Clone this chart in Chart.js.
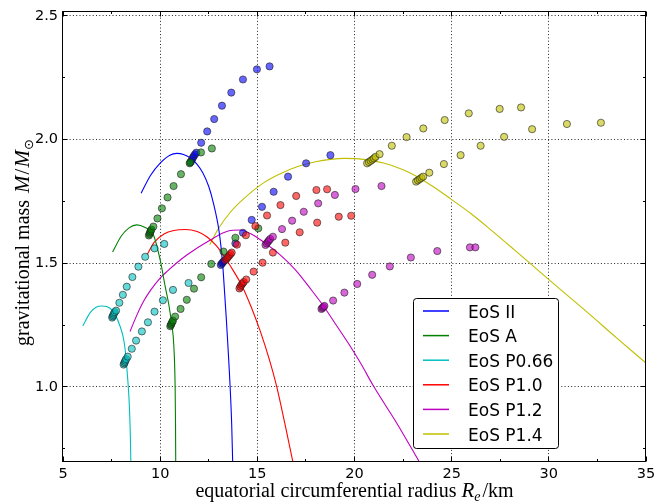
<!DOCTYPE html>
<html><head><meta charset="utf-8">
<script src="https://cdn.jsdelivr.net/npm/chart.js@4/dist/chart.umd.min.js"></script>
<style>html,body{margin:0;padding:0;background:#fff;}#wrap{width:656px;height:502px;}</style>
</head><body><div id="wrap"><canvas id="c" width="656" height="502"></canvas></div>
<script>
// ---------- tick values ----------
const xTicks = [5, 10, 15, 20, 25, 30, 35];
const xMinor = [7.5, 12.5, 17.5, 22.5, 27.5, 32.5];
const yTicks = [1.0, 1.5, 2.0, 2.5];
const yMinor = [0.75, 1.25, 1.75, 2.25];

const eosLabels = ['EoS II', 'EoS A', 'EoS P0.66', 'EoS P1.0', 'EoS P1.2', 'EoS P1.4'];

// ---------- non-rotating sequences (curves): radius R_e [km], mass M/Msun ----------
const curveII_R = [9.02, 9.5, 10.0, 10.5, 10.86, 11.2, 11.55, 11.9, 12.2, 12.5, 12.75, 13.0, 13.14, 13.25, 13.4, 13.6, 13.68, 13.73];
const curveII_M = [1.783, 1.855, 1.905, 1.937, 1.944, 1.94, 1.926, 1.9, 1.865, 1.81, 1.74, 1.645, 1.56, 1.46, 1.28, 1.0, 0.85, 0.7];

const curveA_R = [7.55, 8.0, 8.4, 8.8, 9.2, 9.65, 10.0, 10.26, 10.45, 10.6, 10.7, 10.77, 10.79, 10.8];
const curveA_M = [1.545, 1.61, 1.643, 1.655, 1.645, 1.615, 1.513, 1.405, 1.33, 1.25, 1.17, 1.0, 0.85, 0.7];

const curveP066_R = [6.02, 6.4, 6.7, 7.0, 7.42, 7.7, 7.94, 8.1, 8.2, 8.32, 8.4, 8.46, 8.49];
const curveP066_M = [1.246, 1.3, 1.322, 1.327, 1.318, 1.29, 1.244, 1.2, 1.15, 1.042, 0.947, 0.82, 0.7];

const curveP10_R = [9.33, 9.7, 10.2, 10.7, 11.3, 11.9, 12.4, 12.9, 13.4, 13.8, 14.2, 14.7, 15.15, 15.6, 16.0, 16.42, 16.82];
const curveP10_M = [1.535, 1.585, 1.618, 1.632, 1.636, 1.628, 1.607, 1.57, 1.515, 1.465, 1.41, 1.32, 1.225, 1.115, 1.0, 0.85, 0.7];

const curveP12_R = [8.45, 8.8, 9.14, 9.5, 10.0, 10.34, 11.37, 12.58, 13.5, 14.1, 14.64, 15.33, 16.19, 16.96, 17.7, 18.42, 19.1, 19.79, 20.31, 21.0, 22.2, 23.31];
const curveP12_M = [1.224, 1.29, 1.345, 1.39, 1.44, 1.466, 1.533, 1.594, 1.63, 1.634, 1.62, 1.585, 1.533, 1.473, 1.4, 1.325, 1.245, 1.163, 1.096, 1.0, 0.85, 0.7];

const curveP14_R = [12.55, 13.0, 13.6, 14.29, 15.32, 16.19, 17.04, 18.0, 18.76, 19.5, 20.22, 21.5, 22.5, 23.23, 24.0, 24.95, 26.0, 27.0, 28.2, 29.07, 30.5, 32.0, 33.5, 35.0];
const curveP14_M = [1.575, 1.64, 1.705, 1.76, 1.825, 1.862, 1.89, 1.91, 1.92, 1.924, 1.922, 1.905, 1.878, 1.85, 1.812, 1.76, 1.7, 1.636, 1.556, 1.497, 1.4, 1.3, 1.197, 1.096];

// ---------- rotating models (scatter points) ----------
const ptsII_R = [11.58, 11.63, 11.68, 11.73, 11.79, 11.86, 12.11, 12.42, 12.78, 13.18, 13.66, 14.26, 14.98, 15.63,
                 13.12, 13.17, 13.22, 13.27, 13.87, 14.26, 14.71, 15.24, 15.84, 16.58, 17.51, 18.76];
const ptsII_M = [1.91, 1.918, 1.926, 1.933, 1.94, 1.947, 1.987, 2.033, 2.083, 2.137, 2.19, 2.243, 2.284, 2.296,
                 1.493, 1.498, 1.503, 1.508, 1.58, 1.623, 1.675, 1.728, 1.789, 1.85, 1.904, 1.937];

const ptsA_R = [9.42, 9.45, 9.48, 9.51, 9.55, 9.65, 9.86, 10.09, 10.38, 10.69, 11.07, 11.52, 11.55, 12.1, 12.66,
                10.52, 10.55, 10.58, 10.62, 10.66, 10.77, 11.05, 11.37, 11.74, 12.11, 12.63, 13.26, 13.87, 15.05];
const ptsA_M = [1.612, 1.618, 1.624, 1.63, 1.636, 1.648, 1.681, 1.722, 1.766, 1.812, 1.86, 1.904, 1.908, 1.948, 1.964,
                1.245, 1.25, 1.255, 1.262, 1.268, 1.284, 1.315, 1.352, 1.397, 1.443, 1.497, 1.547, 1.603, 1.641];

const ptsP066_R = [7.53, 7.56, 7.59, 7.62, 7.66, 7.73, 7.9, 8.08, 8.28, 8.57, 8.88, 9.23, 9.71, 10.21,
                   8.12, 8.15, 8.18, 8.21, 8.25, 8.33, 8.54, 8.76, 9.06, 9.37, 9.71, 10.14, 10.66, 11.46];
const ptsP066_M = [1.28, 1.285, 1.29, 1.296, 1.302, 1.308, 1.34, 1.372, 1.405, 1.444, 1.486, 1.526, 1.56, 1.578,
                   1.09, 1.095, 1.1, 1.106, 1.112, 1.122, 1.154, 1.187, 1.224, 1.261, 1.304, 1.35, 1.392, 1.42];

const ptsP10_R = [13.35, 13.42, 13.48, 13.55, 13.62, 13.68, 13.95, 14.41, 14.9, 15.5, 16.19, 17.0, 18.04, 18.59,
                  14.08, 14.13, 14.18, 14.24, 14.3, 14.43, 14.81, 15.27, 15.8, 16.44, 17.18, 18.08, 19.19, 19.83];
const ptsP10_M = [1.512, 1.518, 1.524, 1.53, 1.537, 1.543, 1.575, 1.613, 1.65, 1.693, 1.735, 1.772, 1.796, 1.799,
                  1.398, 1.405, 1.412, 1.418, 1.424, 1.434, 1.466, 1.502, 1.543, 1.583, 1.625, 1.664, 1.688, 1.692];

const ptsP12_R = [15.42, 15.48, 15.54, 15.6, 15.66, 15.8, 16.27, 16.79, 17.39, 18.13, 18.99, 20.05, 21.39,
                  18.3, 18.35, 18.4, 18.45, 18.9, 19.48, 20.14, 20.91, 21.82, 22.9, 24.26, 25.94, 26.22];
const ptsP12_M = [1.574, 1.58, 1.586, 1.592, 1.598, 1.607, 1.638, 1.672, 1.708, 1.742, 1.776, 1.8, 1.812,
                  1.315, 1.319, 1.323, 1.327, 1.349, 1.381, 1.416, 1.453, 1.487, 1.523, 1.549, 1.564, 1.564];

const ptsP14_R = [20.65, 20.74, 20.83, 20.92, 21.0, 21.08, 21.29, 21.92, 22.68, 23.54, 24.64, 25.88, 27.47, 28.57,
                  23.17, 23.26, 23.35, 23.44, 23.53, 23.85, 24.6, 25.46, 26.49, 27.7, 29.14, 30.93, 32.68];
const ptsP14_M = [1.904, 1.909, 1.914, 1.919, 1.924, 1.93, 1.941, 1.975, 2.01, 2.045, 2.079, 2.106, 2.124, 2.13,
                  1.83, 1.835, 1.84, 1.845, 1.85, 1.866, 1.901, 1.937, 1.975, 2.011, 2.042, 2.063, 2.068];

// ---------- styling ----------
const lineColors = ['#0000ff', '#008000', '#00bfbf', '#ff0000', '#bf00bf', '#bfbf00'];
const pointFills = ['rgba(0,0,255,0.6)', 'rgba(0,128,0,0.6)', 'rgba(0,191,191,0.6)',
                    'rgba(255,0,0,0.6)', 'rgba(191,0,191,0.6)', 'rgba(191,191,0,0.6)'];

const curves = [[curveII_R, curveII_M], [curveA_R, curveA_M], [curveP066_R, curveP066_M],
                [curveP10_R, curveP10_M], [curveP12_R, curveP12_M], [curveP14_R, curveP14_M]];
const points = [[ptsII_R, ptsII_M], [ptsA_R, ptsA_M], [ptsP066_R, ptsP066_M],
                [ptsP10_R, ptsP10_M], [ptsP12_R, ptsP12_M], [ptsP14_R, ptsP14_M]];

const toXY = (R, M) => R.map((r, i) => ({x: r, y: M[i]}));
const datasets = [];
curves.forEach(([R, M], i) => datasets.push({
  label: eosLabels[i], data: toXY(R, M), showLine: true, borderColor: lineColors[i],
  borderWidth: 1.1, pointRadius: 0, cubicInterpolationMode: 'monotone', fill: false, order: 10, isCurve: true
}));
points.forEach(([R, M], i) => datasets.push({
  label: eosLabels[i] + ' rotating', data: toXY(R, M), showLine: false,
  backgroundColor: pointFills[i], borderColor: 'rgba(30,30,30,0.6)', borderWidth: 1,
  pointRadius: 3.6, order: -i
}));

const SERIF = '"Liberation Serif", "Times New Roman", serif';
const SANS = '"DejaVu Sans", sans-serif';

function segWidth(ctx, segs) {
  let w = 0;
  segs.forEach(s => { ctx.font = s.font; w += ctx.measureText(s.t).width + (s.gap || 0); });
  return w;
}
function drawSegs(ctx, segs, x0, y0) {
  let x = x0;
  segs.forEach(s => { ctx.font = s.font; ctx.fillText(s.t, x, y0 + (s.dy || 0)); x += ctx.measureText(s.t).width + (s.gap || 0); });
}

const decor = {
  id: 'decor',
  beforeDatasetsDraw(chart) {
    const {ctx, chartArea: a, scales: {x, y}} = chart;
    ctx.save();
    ctx.strokeStyle = 'rgba(0,0,0,0.85)';
    ctx.lineWidth = 1;
    ctx.setLineDash([1, 2.3]);
    xTicks.forEach(v => {
      const px = Math.floor(x.getPixelForValue(v)) + 0.5;
      if (px <= a.left + 2 || px >= a.right - 2) return;
      ctx.beginPath(); ctx.moveTo(px, a.top); ctx.lineTo(px, a.bottom); ctx.stroke();
    });
    yTicks.forEach(v => {
      const py = Math.floor(y.getPixelForValue(v)) + 0.5;
      if (py <= a.top + 2 || py >= a.bottom - 2) return;
      ctx.beginPath(); ctx.moveTo(a.left, py); ctx.lineTo(a.right, py); ctx.stroke();
    });
    ctx.restore();
  },
  afterDatasetsDraw(chart) {
    const {ctx, chartArea: a, scales: {x, y}} = chart;
    ctx.save();
    ctx.strokeStyle = '#000';
    ctx.lineWidth = 1;
    const L = Math.round(a.left) - 0.5, R = Math.round(a.right) - 0.5;
    const T = Math.round(a.top) + 0.5, B = Math.round(a.bottom) + 0.5;
    ctx.strokeRect(L, T, R - L, B - T);
    // inward ticks on all four sides
    const tickX = (vals, len) => vals.forEach(v => {
      const px = Math.floor(x.getPixelForValue(v)) + 0.5;
      ctx.beginPath(); ctx.moveTo(px, B); ctx.lineTo(px, B - len);
      ctx.moveTo(px, T); ctx.lineTo(px, T + len); ctx.stroke();
    });
    const tickY = (vals, len) => vals.forEach(v => {
      const py = Math.floor(y.getPixelForValue(v)) + 0.5;
      ctx.beginPath(); ctx.moveTo(L, py); ctx.lineTo(L + len, py);
      ctx.moveTo(R, py); ctx.lineTo(R - len, py); ctx.stroke();
    });
    tickX(xTicks, 5); tickX(xMinor, 2.5);
    tickY(yTicks, 5); tickY(yMinor, 2.5);

    // legend
    const bx = 413.5, by = 298.5, bw = 145, bh = 150, r = 3;
    ctx.beginPath();
    ctx.moveTo(bx + r, by); ctx.lineTo(bx + bw - r, by); ctx.arcTo(bx + bw, by, bx + bw, by + r, r);
    ctx.lineTo(bx + bw, by + bh - r); ctx.arcTo(bx + bw, by + bh, bx + bw - r, by + bh, r);
    ctx.lineTo(bx + r, by + bh); ctx.arcTo(bx, by + bh, bx, by + bh - r, r);
    ctx.lineTo(bx, by + r); ctx.arcTo(bx, by, bx + r, by, r); ctx.closePath();
    ctx.fillStyle = '#fff'; ctx.fill();
    ctx.strokeStyle = '#000'; ctx.stroke();
    const curveSets = chart.data.datasets.filter(d => d.isCurve);
    ctx.font = '17px ' + SANS;
    ctx.textBaseline = 'alphabetic';
    ctx.textAlign = 'left';
    curveSets.forEach((d, i) => {
      const cy = 311 + i * 24.6;
      ctx.strokeStyle = d.borderColor; ctx.lineWidth = 1.5;
      ctx.beginPath(); ctx.moveTo(423, cy); ctx.lineTo(449, cy); ctx.stroke();
      ctx.fillStyle = '#000';
      ctx.fillText(d.label, 468, cy + 6.5);
    });
    ctx.restore();
  },
  afterDraw(chart) {
    const {ctx, chartArea: a} = chart;
    ctx.save();
    ctx.fillStyle = '#000';
    ctx.textBaseline = 'alphabetic';
    ctx.textAlign = 'left';
    const xs = [
      {t: 'equatorial circumferential radius ', font: '20px ' + SERIF},
      {t: 'R', font: 'italic 21px ' + SERIF},
      {t: 'e', font: 'italic 14px ' + SERIF, dy: 4, gap: 2},
      {t: '/km', font: '20px ' + SERIF}
    ];
    const wx = segWidth(ctx, xs);
    drawSegs(ctx, xs, (a.left + a.right) / 2 - wx / 2, 497);
    const ys = [
      {t: 'gravitational mass ', font: '20px ' + SERIF, gap: 2},
      {t: 'M', font: 'italic 21px ' + SERIF, gap: 1},
      {t: '/', font: '21px ' + SERIF, gap: 1},
      {t: 'M', font: 'italic 21px ' + SERIF},
      {t: '\u2299', font: '13px ' + SANS, dy: 4}
    ];
    ctx.translate(28.5, 0);
    ctx.rotate(-Math.PI / 2);
    drawSegs(ctx, ys, -346, 0);
    ctx.restore();
  }
};

new Chart(document.getElementById('c'), {
  type: 'scatter',
  data: {datasets},
  options: {
    responsive: false, animation: false, devicePixelRatio: 1, events: [],
    layout: {padding: {top: 11, right: 10, left: 0, bottom: 0}},
    plugins: {legend: {display: false}, tooltip: {enabled: false}},
    scales: {
      x: {
        type: 'linear', min: 5, max: 35,
        grid: {display: false, drawTicks: false}, border: {display: false},
        ticks: {font: {family: SANS, size: 14.5}, color: '#000', padding: 5, maxRotation: 0, autoSkip: false,
                callback: v => String(v)},
        afterBuildTicks: s => { s.ticks = xTicks.map(v => ({value: v})); },
        afterFit: s => { s.height = 41; s.paddingLeft = 0; s.paddingRight = 0; }
      },
      y: {
        type: 'linear', min: 0.7, max: 2.52,
        grid: {display: false, drawTicks: false}, border: {display: false},
        ticks: {font: {family: SANS, size: 14.5}, color: '#000', padding: 5, autoSkip: false,
                callback: v => Number(v).toFixed(1)},
        afterBuildTicks: s => { s.ticks = yTicks.map(v => ({value: v})); },
        afterFit: s => { s.width = 63; s.paddingTop = 0; s.paddingBottom = 0; }
      }
    }
  },
  plugins: [decor]
});
</script>
</body></html>
